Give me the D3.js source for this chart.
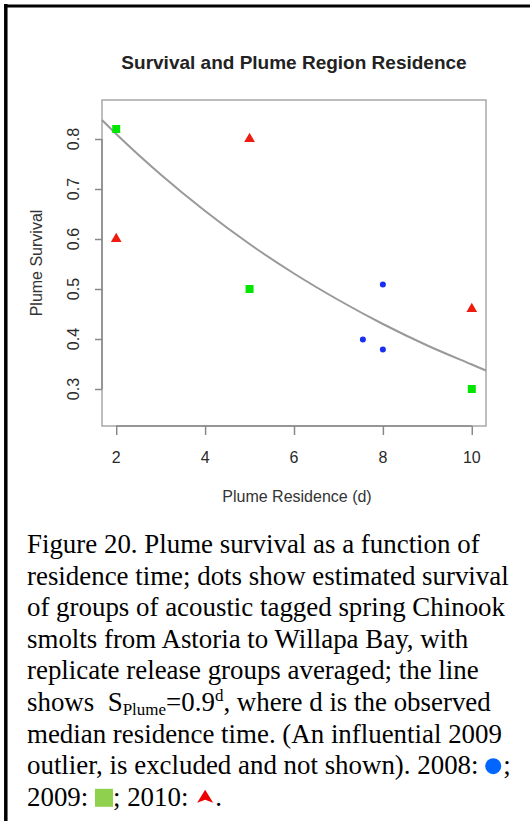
<!DOCTYPE html>
<html><head><meta charset="utf-8">
<script src="https://cdn.jsdelivr.net/npm/d3@7"></script>
<style>
html,body{margin:0;padding:0;background:#fff;}
svg{display:block;}
.tl{font-family:"Liberation Sans",Arial,sans-serif;font-size:16px;fill:#2a2a2a;}
</style></head>
<body>
<svg id="chart" width="530" height="821"></svg>
<script>
// ---- data ----
const xTicks = [2, 4, 6, 8, 10];
const yTicks = [0.3, 0.4, 0.5, 0.6, 0.7, 0.8];
const series2008 = [ {d: 7.55, s: 0.399}, {d: 8, s: 0.509}, {d: 8, s: 0.379} ];
const series2009 = [ {d: 2, s: 0.82}, {d: 5, s: 0.50}, {d: 10, s: 0.30} ];
const series2010 = [ {d: 2, s: 0.60}, {d: 5, s: 0.80}, {d: 10, s: 0.46} ];
const curveD = [1.68, 2, 3, 4, 5, 6, 7, 8, 9, 10, 10.32];
const curveS = [0.838, 0.81, 0.729, 0.656, 0.59, 0.531, 0.478, 0.43, 0.387, 0.349, 0.337];
const titleText = "Survival and Plume Region Residence";
const xTitle = "Plume Residence (d)";
const yTitle = "Plume Survival";
const captionLines = [
  "Figure 20. Plume survival as a function of",
  "residence time; dots show estimated survival",
  "of groups of acoustic tagged spring Chinook",
  "smolts from Astoria to Willapa Bay, with",
  "replicate release groups averaged; the line"
];
const captionLines2 = [
  "median residence time. (An influential 2009"
];

const svg = d3.select("#chart");

// frame
svg.append("line").attr("x1",5.8).attr("x2",5.8).attr("y1",4).attr("y2",821)
  .attr("stroke","#000").attr("stroke-width",3.5);
svg.append("line").attr("x1",4).attr("x2",530).attr("y1",6).attr("y2",6)
  .attr("stroke","#000").attr("stroke-width",3);

const x = d3.scaleLinear().domain([1.68, 10.32]).range([102, 486]);
const y = d3.scaleLinear().domain([0.226, 0.878]).range([426, 100]);

const sans = "Liberation Sans, Arial, sans-serif";

// box
svg.append("rect").attr("x",x.range()[0]).attr("y",y.range()[1])
  .attr("width",x.range()[1]-x.range()[0]).attr("height",y.range()[0]-y.range()[1])
  .attr("fill","none").attr("stroke","#a8a8a8").attr("stroke-width",1.5);

// title
svg.append("text").attr("x",294).attr("y",69).attr("text-anchor","middle")
  .style("font-family",sans).style("font-weight","bold")
  .style("font-size","19px").attr("fill","#222").text(titleText);

// x axis (tick lines via d3 axis, labels drawn separately)
const xAxis = d3.axisBottom(x).tickValues(xTicks).tickSize(9).tickFormat("");
const gx = svg.append("g").attr("transform",`translate(0,${y.range()[0]})`).call(xAxis);
gx.select(".domain").remove();
gx.append("line").attr("x1",x(xTicks[0])).attr("x2",x(xTicks[xTicks.length-1]))
  .attr("stroke","#888").attr("stroke-width",1.5);
gx.selectAll(".tick line").attr("stroke","#888").attr("stroke-width",1.5);
svg.append("g").selectAll("text").data(xTicks).join("text")
  .attr("class","tl").attr("x",d=>x(d)).attr("y",463).attr("text-anchor","middle")
  .text(d3.format("d"));

// y axis
const yAxis = d3.axisLeft(y).tickValues(yTicks).tickSize(7).tickFormat("");
const gy = svg.append("g").attr("transform",`translate(${x.range()[0]},0)`).call(yAxis);
gy.select(".domain").remove();
gy.append("line").attr("y1",y(yTicks[0])).attr("y2",y(yTicks[yTicks.length-1]))
  .attr("stroke","#888").attr("stroke-width",1.5);
gy.selectAll(".tick line").attr("stroke","#888").attr("stroke-width",1.5);
svg.append("g").selectAll("text").data(yTicks).join("text")
  .attr("class","tl").attr("text-anchor","middle")
  .attr("transform",d=>`translate(79,${y(d)}) rotate(-90)`)
  .text(d3.format(".1f"));

// axis titles
svg.append("text").attr("x",297).attr("y",502).attr("text-anchor","middle")
  .style("font-family",sans).style("font-size","16px")
  .attr("fill","#333").text(xTitle);
svg.append("text").attr("transform","translate(42,263) rotate(-90)").attr("text-anchor","middle")
  .style("font-family",sans).style("font-size","16px")
  .attr("fill","#333").text(yTitle);

// curve
const line = d3.line().x(d=>x(d[0])).y(d=>y(d[1])).curve(d3.curveMonotoneX);
svg.append("path").datum(d3.zip(curveD, curveS)).attr("d",line)
  .attr("fill","none").attr("stroke","#999").attr("stroke-width",2);

// points
svg.selectAll(".p2008").data(series2008).join("circle")
  .attr("cx",d=>x(d.d)).attr("cy",d=>y(d.s)).attr("r",3).attr("fill","#1a2ff0");
svg.selectAll(".p2009").data(series2009).join("rect")
  .attr("x",d=>x(d.d)-4).attr("y",d=>y(d.s)-4).attr("width",8).attr("height",8).attr("fill","#00e600");
const tri = d3.symbol().type(d3.symbolTriangle).size(50);
svg.selectAll(".p2010").data(series2010).join("path")
  .attr("transform",d=>`translate(${x(d.d)},${y(d.s)})`).attr("d",tri).attr("fill","#ee1c10");

// caption
const capFont = "Liberation Serif, Times New Roman, serif";
const capSize = 26.9;
const lh = 31.6;
const base0 = 553;
const cap = svg.append("g").style("font-family",capFont).style("font-size",capSize+"px").attr("fill","#000");
captionLines.forEach((t,i)=>{
  cap.append("text").attr("x",27).attr("y",base0+i*lh).text(t);
});
// line 6 with sub/sup
const l6 = cap.append("text").attr("x",27).attr("y",base0+5*lh);
l6.append("tspan").text("shows\u00a0\u00a0S");
l6.append("tspan").style("font-size","17px").attr("dy",4).text("Plume");
l6.append("tspan").attr("dy",-4).text("=0.9");
l6.append("tspan").style("font-size","17px").attr("dy",-10).text("d");
l6.append("tspan").attr("dy",10).text(", where d is the observed");
captionLines2.forEach((t,i)=>{
  cap.append("text").attr("x",27).attr("y",base0+(6+i)*lh).text(t);
});
// line 8 with circle symbol
const l8 = cap.append("text").attr("x",27).attr("y",base0+7*lh).text("outlier, is excluded and not shown). 2008:\u00a0");
const w8 = l8.node().getComputedTextLength();
cap.append("circle").attr("cx",27+w8+8).attr("cy",base0+7*lh-8).attr("r",8).attr("fill","#0066ff");
cap.append("text").attr("x",27+w8+18).attr("y",base0+7*lh).text(";");
// line 9
const l9a = cap.append("text").attr("x",27).attr("y",base0+8*lh).text("2009:\u00a0");
const w9a = l9a.node().getComputedTextLength();
cap.append("rect").attr("x",27+w9a).attr("y",base0+8*lh-17).attr("width",18).attr("height",18).attr("fill","#8fd14f");
const l9b = cap.append("text").attr("x",27+w9a+18).attr("y",base0+8*lh).text("; 2010:\u00a0");
const w9b = l9b.node().getComputedTextLength();
cap.append("path").attr("transform",`translate(${27+w9a+18+w9b+10},${base0+8*lh-9})`)
  .attr("d","M0,-7 L8,6 L0,3 L-8,6 Z").attr("fill","#ee0000");
cap.append("text").attr("x",27+w9a+18+w9b+20).attr("y",base0+8*lh).text(".");
</script>
</body></html>
